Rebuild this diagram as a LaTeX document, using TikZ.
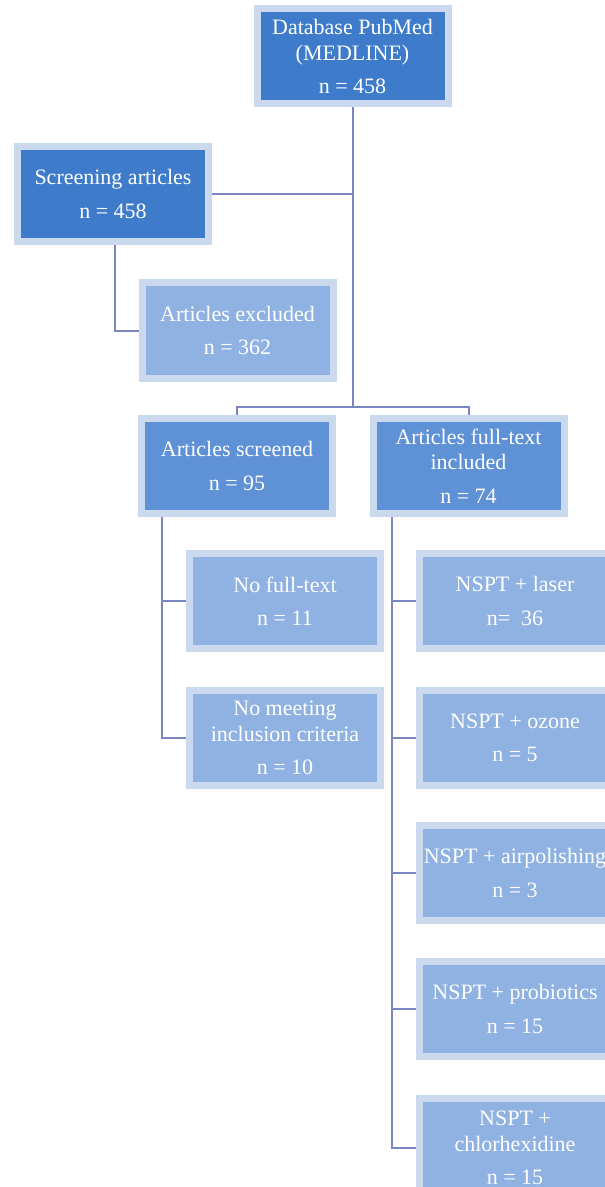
\documentclass[tikz,border=0pt]{standalone}
\usepackage{fontspec}
\setmainfont{Liberation Serif}
\usetikzlibrary{calc,backgrounds}
\definecolor{dark}{HTML}{3E7CCB}
\definecolor{mid}{HTML}{5F91D7}
\definecolor{light}{HTML}{8FB2E2}
\definecolor{halo}{HTML}{CBD9EF}
\definecolor{linkc}{HTML}{7A86C0}

\tikzset{
  box/.style={draw=halo, line width=5.25pt, text=white, align=center,
    minimum width=143.25pt, minimum height=71.25pt, inner sep=0pt,
    font=\fontsize{16.5}{19}\selectfont},
  darkbox/.style={box, fill=dark},
  midbox/.style={box, fill=mid},
  lightbox/.style={box, fill=light},
  link/.style={draw=linkc, line width=1.5pt}
}
\newcommand{\nrow}{\\[6pt]}

\begin{document}
\begin{tikzpicture}[x=0.75pt, y=-0.75pt]

  \useasboundingbox (0, 0) rectangle (605, 1187);
  \clip (0, 0) rectangle (605, 1187);

  % TOP OF THE CHART

  \node[darkbox] (db) at (352.5, 56.5) {Database PubMed\\(MEDLINE)\nrow n = 458};
  \node[darkbox] (scr) at (113, 194) {Screening articles\nrow n = 458};
  \node[lightbox] (excl) at (237.5, 330.5) {Articles excluded\nrow n = 362};

  % MIDDLE ROW

  \node[midbox] (screened) at (237, 466) {Articles screened\nrow n = 95};
  \node[midbox] (fulltext) at (468.5, 466) {Articles full-text\\included\nrow n = 74};

  % LEFT COLUMN

  \node[lightbox] (nofull) at (285, 601) {No full-text\nrow n = 11};
  \node[lightbox] (nomeet) at (285, 738) {No meeting\\inclusion criteria\nrow n = 10};

  % RIGHT COLUMN

  \node[lightbox] (laser) at (515, 601) {NSPT + laser\nrow n=\ \ 36};
  \node[lightbox] (ozone) at (515, 738) {NSPT + ozone\nrow n = 5};
  \node[lightbox] (air) at (515, 873) {NSPT + airpolishing\nrow n = 3};
  \node[lightbox] (prob) at (515, 1009) {NSPT + probiotics\nrow n = 15};
  \node[lightbox, minimum height=74.25pt] (chlor) at (515, 1148) {NSPT +\\chlorhexidine\nrow n = 15};

  % LINES

  \begin{scope}[on background layer]
    \coordinate (split) at ($(db.south)+(0, 299)$);
    \draw[link] (db.south) -- (split);
    \draw[link] (screened.north) |- (split) -| (fulltext.north);
    \draw[link] (scr.east) -- (scr.east -| db.south);
    \draw[link] ($(scr.south)+(2, 0)$) |- (excl.west);

    \coordinate (trunkL) at ($(screened.south)+(-75, 0)$);
    \draw[link] (trunkL) |- (nomeet.west);
    \draw[link] (trunkL |- nofull.west) -- (nofull.west);

    \coordinate (trunkR) at ($(fulltext.south)+(-76.5, 0)$);
    \draw[link] (trunkR) |- (chlor.west);
    \foreach \b in {laser, ozone, air, prob}{
      \draw[link] (trunkR |- \b.west) -- (\b.west);
    }
  \end{scope}

\end{tikzpicture}
\end{document}
